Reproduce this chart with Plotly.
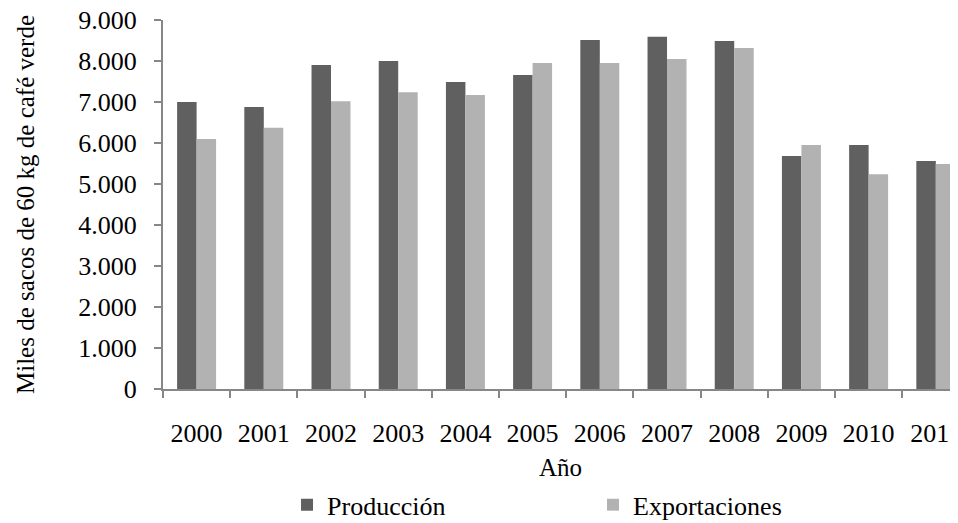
import plotly.graph_objects as go

years = ["2000", "2001", "2002", "2003", "2004", "2005", "2006", "2007", "2008", "2009", "2010", "2011"]
produccion = [7000, 6880, 7900, 8000, 7490, 7660, 8510, 8590, 8490, 5680, 5950, 5560]
exportaciones = [6100, 6370, 7020, 7240, 7170, 7950, 7950, 8050, 8320, 5950, 5240, 5490]

FONT = "Liberation Serif"
F = dict(family=FONT, size=26, color="black")
FT = dict(family=FONT, size=25, color="black")

fig = go.Figure()
fig.add_trace(go.Bar(x=years, y=produccion, name="Producción", marker_color="#606060", marker_line_width=0))
fig.add_trace(go.Bar(x=years, y=exportaciones, name="Exportaciones", marker_color="#b2b2b2", marker_line_width=0))

fig.update_layout(
    width=950, height=515,
    margin=dict(l=155, r=0, t=12, b=134, autoexpand=False),
    paper_bgcolor="white", plot_bgcolor="white",
    font=F,
    separators=",.",
    barmode="group", bargap=0.42, bargroupgap=0,
    showlegend=True,
    legend=dict(orientation="h", x=0.156, xanchor="left", y=-0.25, yanchor="top",
                entrywidth=261, entrywidthmode="pixels", itemwidth=30,
                font=F),
)
fig.update_xaxes(
    type="category", range=[-0.5, 11.33],
    showline=True, linecolor="#878787", linewidth=2,
    ticks="outside", tickson="boundaries", ticklen=7, tickcolor="#878787", tickwidth=2,
    ticklabelstandoff=20, tickfont=F, ticklabeloverflow="allow",
    showgrid=False, zeroline=False,
    title=dict(text="Año", standoff=11, font=FT),
)
fig.update_yaxes(
    range=[0, 9000], tickvals=[0, 1000, 2000, 3000, 4000, 5000, 6000, 7000, 8000, 9000],
    tickformat=",.0f",
    showline=True, linecolor="#878787", linewidth=2,
    ticks="outside", ticklen=7, tickcolor="#878787", tickwidth=2,
    ticklabelstandoff=12, tickfont=F, ticklabeloverflow="allow",
    showgrid=False, zeroline=False,
    title=dict(text="Miles de sacos de 60 kg de café verde", standoff=37, font=FT),
)

fig.write_html("out.html")
